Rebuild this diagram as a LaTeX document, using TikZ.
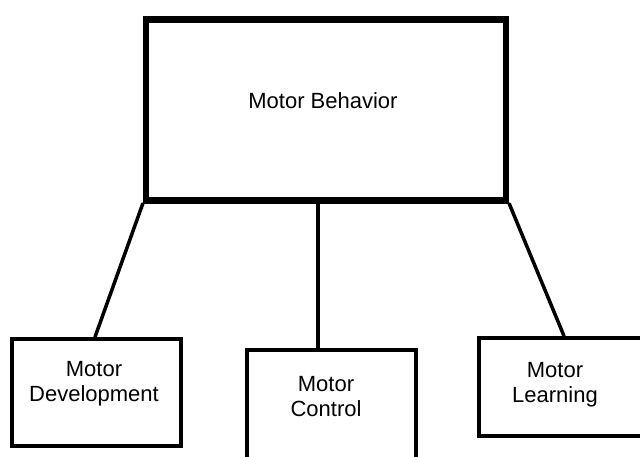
\documentclass[tikz,border=0pt]{standalone}
\usepackage{fontspec}
\setmainfont{Liberation Sans}
\usetikzlibrary{positioning,calc}

\begin{document}
\begin{tikzpicture}[
  x=1pt, y=-1pt,
  % Box and connector styling
  every node/.style={font=\fontsize{22}{25}\selectfont},
  box/.style={
    draw=black,
    line width=4pt,
    inner sep=0pt
  },
  topbox/.style={box, line width=6.5pt},
  boxtext/.style={align=center, inner sep=0pt},
  link/.style={line width=3.5pt, line cap=round}
]
\useasboundingbox (0,0) rectangle (640,456);

% Top box
\node[topbox, minimum width=360pt, minimum height=181pt] (behavior) at (326,110) {};
\node[boxtext] (behaviortext) at (323,101) {Motor Behavior};

% Lower boxes
\node[box, minimum width=169pt, minimum height=107pt] (development) at (96.5,392.5) {};
\node[boxtext] (developmenttext) at (94,384) {Motor\\Development};

\node[box, minimum width=169pt, minimum height=120pt] (control) at (331.5,410) {};
\node[boxtext] (controltext) at (326,397) {Motor\\Control};

\node[box, minimum width=201pt, minimum height=98pt] (learning) at (579.5,387) {};
\node[boxtext] (learningtext) at (555,385) {Motor\\Learning};

% Connectors
\draw[link] (behavior.south west) -- ([xshift=-1.5pt]development.north);
\draw[link] ([xshift=-8pt]behavior.south) -- ([xshift=-13.5pt]control.north);
\draw[link] (behavior.south east) -- ([xshift=87pt]learning.north west);

\end{tikzpicture}
\end{document}
